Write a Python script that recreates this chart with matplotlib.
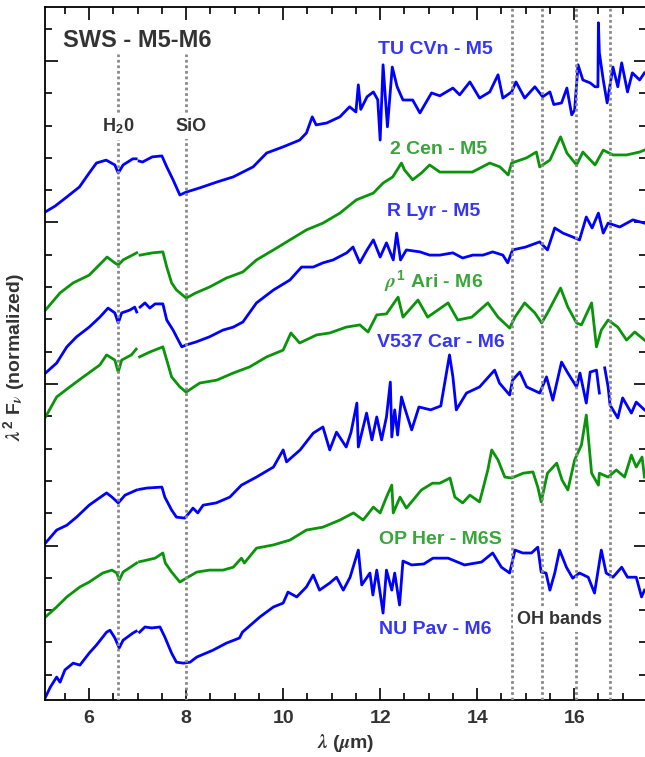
import numpy as np
import matplotlib
matplotlib.use("Agg")
import matplotlib.pyplot as plt
from matplotlib.ticker import MultipleLocator

nan = float("nan")

# spectra (wavelength in micron, offset normalized flux)
tu_wl = [5.1, 5.3, 5.54, 5.8, 6.0, 6.15, 6.35, 6.53, 6.6, 6.7, 6.9, 6.97, 7.0, 7.03, 7.1, 7.3, 7.5, 7.6,
         7.73, 7.87, 8.0, 8.28, 8.63, 8.97, 9.38, 9.66, 10.0, 10.34, 10.48, 10.6, 10.68, 10.9, 11.17,
         11.37, 11.5, 11.55, 11.6, 11.73, 11.86, 11.95, 12.0, 12.06, 12.15, 12.25, 12.35, 12.47, 12.67,
         12.82, 13.06, 13.23, 13.5, 13.64, 13.85, 14.05, 14.26, 14.43, 14.53, 14.71, 14.8, 14.98, 15.19,
         15.35, 15.5, 15.58, 15.74, 15.85, 15.95, 16.01, 16.08, 16.18, 16.33, 16.43, 16.49, 16.5, 16.52,
         16.6, 16.68, 16.8, 16.9, 16.98, 17.1, 17.2, 17.35, 17.45]
tu_flux = [15.33, 15.51, 15.79, 16.10, 16.53, 16.84, 16.93, 16.78, 16.53, 16.78, 16.97, 16.97, nan, 16.90,
           16.87, 17.03, 17.06, 16.72, 16.32, 15.85, 15.94, 16.07, 16.25, 16.41, 16.72, 17.15, 17.34,
           17.55, 17.77, 18.27, 18.02, 18.08, 18.27, 18.58, 18.42, 19.26, 18.50, 18.89, 19.04, 18.80,
           17.55, 19.88, 17.96, 19.81, 19.20, 18.79, 18.79, 18.39, 19.01, 18.92, 19.16, 18.95, 19.35,
           18.85, 19.04, 19.57, 18.85, 19.04, 19.35, 18.85, 19.20, 18.89, 19.04, 18.65, 18.70, 19.16,
           18.33, 18.48, 19.88, 19.41, 19.32, 19.20, 19.20, 21.18, 20.25, 19.41, 18.70, 19.81, 19.20,
           19.94, 19.04, 19.63, 19.41, 19.63]

cen_wl = [5.1, 5.4, 5.67, 6.0, 6.37, 6.5, 6.6, 6.7, 6.98, 7.0, 7.05, 7.31, 7.52, 7.6, 7.7, 7.8, 8.0, 8.2,
          8.48, 8.83, 9.17, 9.45, 9.8, 10.14, 10.48, 10.82, 11.17, 11.51, 11.86, 12.06, 12.26, 12.44,
          12.5, 12.67, 12.85, 13.02, 13.23, 13.58, 13.9, 14.26, 14.47, 14.64, 14.71, 15.02, 15.22, 15.29,
          15.5, 15.72, 15.85, 16.05, 16.18, 16.43, 16.6, 16.8, 17.08, 17.35, 17.45]
cen_flux = [12.29, 12.82, 13.13, 13.37, 13.93, 13.78, 13.68, 13.84, 14.06, nan, 13.99, 14.06, 14.09,
            13.62, 13.13, 12.91, 12.66, 12.82, 13.00, 13.28, 13.47, 13.84, 14.15, 14.46, 14.77, 14.98,
            15.29, 15.70, 15.91, 16.22, 16.41, 16.84, 16.63, 16.32, 16.53, 16.78, 16.56, 16.56, 16.56,
            16.84, 16.72, 16.47, 16.84, 17.00, 17.18, 16.72, 16.93, 17.65, 17.15, 16.78, 17.18, 16.78,
            17.24, 17.09, 17.09, 17.18, 17.24]

lyr_wl = [5.1, 5.33, 5.54, 5.74, 6.0, 6.22, 6.39, 6.53, 6.6, 6.67, 6.84, 6.94, 6.98, 7.0, 7.05, 7.15,
          7.25, 7.36, 7.52, 7.6, 7.73, 7.91, 8.0, 8.2, 8.48, 8.76, 8.97, 9.17, 9.45, 9.8, 10.14, 10.38,
          10.62, 10.82, 11.03, 11.31, 11.44, 11.58, 11.73, 11.86, 12.0, 12.13, 12.27, 12.34, 12.42,
          12.54, 12.82, 13.02, 13.23, 13.5, 13.7, 13.91, 14.12, 14.32, 14.53, 14.63, 14.73, 15.0, 15.29,
          15.45, 15.6, 15.77, 15.97, 16.11, 16.25, 16.37, 16.5, 16.6, 16.7, 16.94, 17.21, 17.45]
lyr_flux = [10.34, 10.65, 11.15, 11.46, 11.76, 12.07, 12.35, 12.20, 11.89, 12.20, 12.29, 12.38, 12.23,
            nan, 12.38, 12.51, 12.35, 12.48, 12.48, 11.98, 11.67, 11.15, 11.21, 11.30, 11.46, 11.67,
            11.76, 11.92, 12.51, 12.91, 13.22, 13.62, 13.62, 13.75, 13.84, 14.06, 14.24, 13.75, 14.15,
            14.46, 13.93, 14.37, 13.84, 14.67, 13.84, 14.15, 14.09, 13.99, 13.99, 14.06, 13.90, 13.99,
            13.99, 14.09, 13.99, 13.75, 14.15, 14.24, 14.40, 14.15, 14.83, 14.67, 14.55, 14.46, 15.17,
            14.83, 15.29, 14.67, 14.98, 14.86, 15.08, 14.98]

ari_wl = [5.1, 5.33, 5.6, 5.88, 6.22, 6.36, 6.53, 6.6, 6.67, 6.87, 6.97, 7.0, 7.04, 7.25, 7.52, 7.6, 7.7,
          7.87, 8.0, 8.28, 8.63, 8.97, 9.31, 9.66, 10.0, 10.16, 10.34, 10.69, 10.96, 11.3, 11.58, 11.75,
          11.93, 12.13, 12.37, 12.47, 12.78, 12.98, 13.4, 13.6, 13.89, 14.22, 14.43, 14.67, 14.78, 14.98,
          15.19, 15.33, 15.45, 15.72, 15.87, 16.05, 16.15, 16.36, 16.46, 16.56, 16.7, 16.9, 17.08,
          17.25, 17.45]
ari_flux = [8.98, 9.60, 9.91, 10.22, 10.59, 10.90, 10.74, 10.37, 10.74, 10.90, 11.08, nan, 10.84, 10.99,
            11.15, 10.74, 10.22, 9.91, 9.75, 10.03, 10.12, 10.34, 10.53, 10.84, 11.05, 11.58, 11.27,
            11.52, 11.58, 11.76, 11.83, 11.61, 12.14, 12.17, 12.69, 12.07, 12.60, 12.07, 12.51, 11.98,
            12.07, 12.51, 12.07, 11.73, 12.07, 12.51, 12.20, 11.89, 12.20, 12.97, 12.38, 11.89, 11.83,
            12.51, 11.15, 11.67, 11.98, 11.76, 11.36, 11.61, 11.36]

car_wl = [5.1, 5.33, 5.54, 5.74, 6.0, 6.15, 6.36, 6.47, 6.6, 6.74, 6.98, 7.0, 7.04, 7.19, 7.5, 7.56, 7.7,
          7.8, 7.97, 8.08, 8.14, 8.24, 8.35, 8.62, 8.9, 9.14, 9.45, 9.8, 10.0, 10.07, 10.35, 10.62, 10.82,
          10.96, 11.1, 11.3, 11.4, 11.52, 11.55, 11.72, 11.83, 11.93, 12.03, 12.13, 12.21, 12.24, 12.3,
          12.36, 12.44, 12.5, 12.65, 12.8, 13.04, 13.25, 13.43, 13.5, 13.57, 13.78, 14.05, 14.36, 14.46,
          14.67, 14.73, 14.88, 15.02, 15.29, 15.43, 15.56, 15.74, 15.87, 16.05, 16.12, 16.25, 16.33,
          16.46, 16.52, 16.57, 16.63, 16.7, 16.74, 16.9, 17.0, 17.18, 17.28, 17.45]
car_flux = [5.08, 5.48, 5.63, 5.88, 6.25, 6.41, 6.63, 6.50, 6.32, 6.56, 6.72, nan, 6.74, 6.78, 6.81, 6.50,
            6.10, 5.88, 5.85, 6.04, 6.16, 6.01, 6.25, 6.32, 6.50, 6.87, 7.12, 7.43, 7.96, 7.59, 7.96,
            8.48, 8.67, 7.96, 8.51, 8.05, 8.51, 9.41, 8.05, 9.10, 8.27, 8.98, 8.27, 8.98, 10.06, 8.36,
            9.20, 8.42, 9.60, 9.29, 8.58, 9.29, 9.20, 9.32, 10.90, 10.22, 9.20, 9.72, 9.91, 10.43, 10.03,
            9.66, 10.12, 10.37, 9.91, 9.72, 10.22, 9.50, 10.68, 10.34, 9.91, 10.34, 9.41, 10.37, 10.43,
            9.72, nan, 10.50, 9.91, 9.35, 8.95, 9.57, 9.10, 9.44, 9.20]

her_wl = [5.1, 5.33, 5.54, 5.81, 6.0, 6.28, 6.47, 6.57, 6.62, 6.7, 6.98, 7.0, 7.04, 7.19, 7.36, 7.52,
          7.57, 7.7, 7.87, 8.0, 8.22, 8.48, 8.76, 8.97, 9.14, 9.2, 9.45, 9.8, 10.14, 10.48, 10.82, 11.17,
          11.45, 11.65, 11.86, 12.0, 12.13, 12.24, 12.27, 12.41, 12.54, 12.68, 12.85, 13.08, 13.23,
          13.44, 13.54, 13.7, 13.85, 14.05, 14.22, 14.3, 14.43, 14.57, 14.71, 14.95, 15.15, 15.25, 15.32,
          15.45, 15.64, 15.75, 15.87, 16.01, 16.15, 16.25, 16.36, 16.5, 16.52, 16.7, 16.87, 17.04,
          17.18, 17.28, 17.4, 17.45]
her_flux = [2.79, 3.10, 3.41, 3.72, 3.87, 4.15, 4.24, 4.15, 3.93, 4.18, 4.46, nan, 4.50, 4.55, 4.61,
            4.77, 4.46, 4.18, 3.87, 3.99, 4.18, 4.24, 4.24, 4.33, 4.61, 4.46, 4.92, 5.02, 5.17, 5.48,
            5.57, 5.79, 6.01, 5.79, 6.19, 6.01, 6.50, 6.87, 6.01, 6.50, 6.16, 6.41, 6.72, 6.93, 6.93,
            7.09, 6.50, 6.32, 6.56, 6.35, 7.34, 7.96, 7.65, 7.12, 7.09, 7.24, 7.28, 6.81, 6.35, 7.24,
            7.55, 7.03, 6.72, 7.65, 8.11, 9.04, 7.24, 6.87, 7.24, 7.12, 7.34, 7.12, 7.80, 7.43, 7.74,
            7.12]

pav_wl = [5.1, 5.2, 5.33, 5.4, 5.5, 5.67, 5.81, 6.0, 6.15, 6.36, 6.43, 6.53, 6.62, 6.7, 6.9, 6.97, 7.0,
          7.04, 7.15, 7.29, 7.46, 7.56, 7.7, 7.8, 7.94, 8.08, 8.22, 8.55, 8.83, 9.1, 9.16, 9.52, 9.8,
          10.0, 10.1, 10.28, 10.48, 10.62, 10.75, 10.96, 11.1, 11.24, 11.38, 11.55, 11.62, 11.79, 11.85,
          11.93, 12.06, 12.13, 12.24, 12.3, 12.4, 12.47, 12.65, 12.9, 13.09, 13.4, 13.74, 14.09, 14.32,
          14.5, 14.67, 14.78, 14.94, 15.12, 15.25, 15.32, 15.42, 15.5, 15.6, 15.7, 15.84, 15.97, 16.11,
          16.29, 16.42, 16.56, 16.66, 16.8, 16.98, 17.1, 17.28, 17.39, 17.45]
pav_flux = [0.31, 0.62, 0.93, 0.77, 1.15, 1.36, 1.30, 1.67, 1.92, 2.32, 2.38, 2.14, 1.83, 2.07, 2.29, 2.35,
            nan, 2.32, 2.48, 2.45, 2.48, 2.17, 1.67, 1.39, 1.36, 1.39, 1.55, 1.76, 1.98, 2.14, 2.32, 2.79,
            3.10, 3.22, 3.56, 3.41, 3.72, 4.09, 3.62, 3.84, 4.02, 3.62, 4.02, 4.86, 3.78, 4.15, 3.47,
            4.24, 2.91, 4.24, 3.62, 4.15, 3.16, 4.52, 4.40, 4.43, 4.61, 4.61, 4.40, 4.49, 4.77, 4.33,
            4.15, 4.86, 4.77, 4.77, 4.95, 4.18, 4.15, 3.62, 4.15, 4.86, 4.33, 3.99, 4.15, 4.02, 3.53,
            4.86, 4.15, 4.02, 4.33, 4.02, 4.02, 3.41, 3.62]

names = ["TU CVn - M5", "2 Cen - M5", "R Lyr - M5", r"$\rho^1$ Ari - M6", "V537 Car - M6",
         "OP Her - M6S", "NU Pav - M6"]
label_wl = [13.13, 13.2, 13.1, 13.1, 13.25, 13.25, 13.13]
label_y = [20.35, 17.26, 15.34, 13.17, 11.28, 5.19, 2.40]

feature_wl = [6.6, 8.0]
feature_names = ["H$_2$0", "SiO"]
oh_wl = [14.71, 15.33, 16.03, 16.73]

blue = "#0000ff"
green = "#0a940a"
blue_txt = "#3535f5"
green_txt = "#3aa53a"

plt.rcParams['font.family'] = ['Liberation Sans', 'DejaVu Sans']
plt.rcParams['font.weight'] = 'bold'
plt.rcParams['axes.labelweight'] = 'bold'
plt.rcParams['mathtext.fontset'] = 'custom'
plt.rcParams['mathtext.rm'] = 'Liberation Sans:bold'
plt.rcParams['mathtext.bf'] = 'Liberation Sans:bold'
plt.rcParams['mathtext.it'] = 'STIXGeneral:italic'

fig = plt.figure(figsize=(6.45, 7.57), dpi=100)
ax = fig.add_axes([0.0698, 0.0753, 0.9324, 0.9155])

spectra = [(tu_wl, tu_flux, blue), (cen_wl, cen_flux, green), (lyr_wl, lyr_flux, blue),
           (ari_wl, ari_flux, green), (car_wl, car_flux, blue), (her_wl, her_flux, green),
           (pav_wl, pav_flux, blue)]
for wl, fl, c in spectra:
    ax.plot(wl, fl, color=c, lw=2.0, zorder=2)

# feature markers
for w in feature_wl:
    ax.plot([w, w], [0.2, 20.2], color="#8a8a8a", lw=2, ls=(0, (1, 1)), zorder=3)
for w in oh_wl:
    ax.axvline(w, color="#8a8a8a", lw=2, ls=(0, (1, 1)), zorder=3)

box = dict(facecolor="white", edgecolor="none", pad=3)
ax.text(6.6, 17.97, feature_names[0], ha="center", va="center", fontsize=13, color="#333333",
        bbox=box, zorder=4)
ax.text(8.1, 17.97, feature_names[1], ha="center", va="center", fontsize=13, color="#333333",
        bbox=box, zorder=4)
ax.text(15.7, 2.71, "OH bands", ha="center", va="center", fontsize=13, color="#333333",
        bbox=box, zorder=4)
ax.text(5.46, 20.63, "SWS - M5-M6", ha="left", va="center", fontsize=17, color="#333333", zorder=4)

for i, n in enumerate(names):
    c = blue_txt if i % 2 == 0 else green_txt
    ax.text(label_wl[i], label_y[i], n, ha="center", va="center", fontsize=14, color=c, zorder=4)

ax.set_xlim(5.09, 17.49)
ax.set_ylim(0.22, 21.67)
ax.xaxis.set_major_locator(MultipleLocator(2))
ax.xaxis.set_minor_locator(MultipleLocator(0.5))
ax.yaxis.set_major_locator(MultipleLocator(5))
ax.yaxis.set_minor_locator(MultipleLocator(1))
ax.tick_params(which="both", direction="in", top=True, right=True, width=1.2)
ax.tick_params(which="major", length=9, labelsize=14, labelcolor="#333333", pad=7)
ax.tick_params(which="minor", length=5)
ax.set_yticklabels([])
for s in ax.spines.values():
    s.set_linewidth(1.3)

ax.set_xlabel(r"$\lambda$ ($\mu$m)", fontsize=14, color="#333333", labelpad=4)
ax.set_ylabel(r"$\lambda^2$ F$_\nu$ (normalized)", fontsize=14, color="#333333")
ax.yaxis.set_label_coords(-0.028, 0.495)

fig.savefig("out.png", dpi=100)
